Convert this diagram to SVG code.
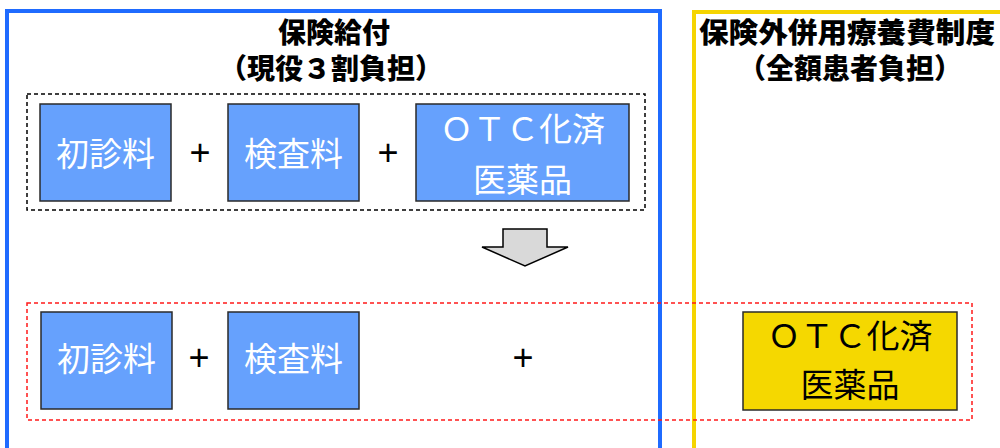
<svg xmlns="http://www.w3.org/2000/svg" width="1000" height="448" viewBox="0 0 1000 448">
<style>
.title{font-family:"Noto Sans CJK JP","Noto Sans",sans-serif;font-weight:900;font-size:28px;fill:#000;text-anchor:middle;dominant-baseline:central}
.lbl{font-family:"Noto Sans CJK JP","Noto Sans",sans-serif;font-size:33px;text-anchor:middle;dominant-baseline:central}
.w{fill:#fff}
.k{fill:#000}
.plus{font-family:"Liberation Sans",sans-serif;font-size:36px;fill:#000;text-anchor:middle;dominant-baseline:central}
.bbox{fill:#66a1fd;stroke:#2a2a2a;stroke-width:1.5}
.ybox{fill:#f5d800;stroke:#2a2a2a;stroke-width:1.5}
</style>
<rect width="1000" height="448" fill="#fff"/>
<g id="frame-insurance">
<rect x="7" y="11" width="653" height="470" fill="none" stroke="#1f6bff" stroke-width="4"/>
<text class="title"><tspan x="334" y="31">保険給付</tspan><tspan x="331" y="67">（現役３割負担）</tspan></text>
</g>
<g id="frame-outside">
<rect x="694" y="12" width="340" height="470" fill="none" stroke="#f5d400" stroke-width="4"/>
<text class="title"><tspan x="847" y="31" textLength="296" lengthAdjust="spacingAndGlyphs">保険外併用療養費制度</tspan><tspan x="850" y="67">（全額患者負担）</tspan></text>
</g>
<g id="group-before">
<rect x="27" y="94" width="618" height="116" fill="none" stroke="#000" stroke-width="1.5" stroke-dasharray="4,3"/>
</g>
<g id="node-shoshin-1">
<rect class="bbox" x="40" y="104" width="131" height="97"/>
<text class="lbl w" x="105.5" y="152">初診料</text>
</g>
<g id="node-kensa-1">
<rect class="bbox" x="228" y="104" width="131" height="97"/>
<text class="lbl w" x="293.5" y="152">検査料</text>
</g>
<g id="node-otc-1">
<rect class="bbox" x="416" y="104" width="213" height="97"/>
<text class="lbl w"><tspan x="522.5" y="127">ＯＴＣ化済</tspan><tspan x="522.5" y="178">医薬品</tspan></text>
</g>
<g id="connectors">
<text class="plus" x="200" y="152">+</text>
<text class="plus" x="388" y="152">+</text>
<polygon points="503,229 547,229 547,247 568,247 525,266 482,247 503,247" fill="#d9d9d9" stroke="#000" stroke-width="1.5" stroke-linejoin="miter"/>
<text class="plus" x="199" y="357">+</text>
<text class="plus" x="523" y="357">+</text>
</g>
<g id="group-after">
<rect x="27" y="303" width="945" height="117" fill="none" stroke="#ff1a1a" stroke-width="1.5" stroke-dasharray="4,3"/>
</g>
<g id="node-shoshin-2">
<rect class="bbox" x="41" y="312" width="131" height="97"/>
<text class="lbl w" x="106.5" y="357">初診料</text>
</g>
<g id="node-kensa-2">
<rect class="bbox" x="228" y="312" width="131" height="97"/>
<text class="lbl w" x="293.5" y="357">検査料</text>
</g>
<g id="node-otc-2">
<rect class="ybox" x="743" y="312" width="214" height="98"/>
<text class="lbl k"><tspan x="850" y="334">ＯＴＣ化済</tspan><tspan x="850" y="383">医薬品</tspan></text>
</g>
</svg>
